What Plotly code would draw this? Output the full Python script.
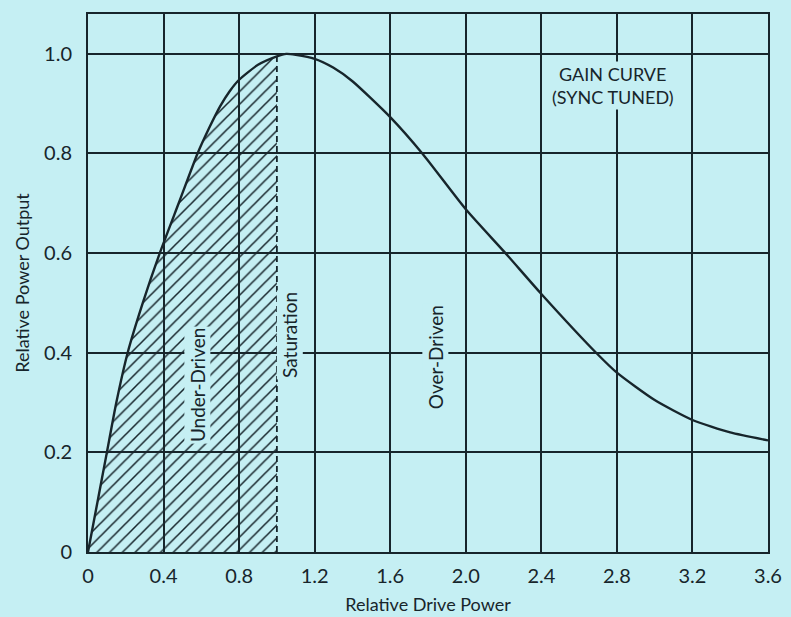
import plotly.graph_objects as go

# Gain curve
drive = [0, 0.05, 0.10, 0.15, 0.21, 0.29, 0.38, 0.48, 0.58, 0.64, 0.70, 0.75, 0.80, 0.90, 1.00,
         1.05, 1.10, 1.20, 1.30, 1.40, 1.60, 1.77, 2.00, 2.21, 2.40, 2.69, 2.80, 3.00, 3.20, 3.40, 3.60]
output = [0, 0.10, 0.20, 0.30, 0.40, 0.50, 0.60, 0.70, 0.80, 0.85, 0.895, 0.925, 0.948, 0.978, 0.995,
          1.00, 0.998, 0.99, 0.972, 0.945, 0.873, 0.80, 0.688, 0.60, 0.518, 0.40, 0.36, 0.305, 0.265, 0.24, 0.224]

saturation_x = 1.0
x_ticks = [0, 0.4, 0.8, 1.2, 1.6, 2.0, 2.4, 2.8, 3.2, 3.6]
x_tick_labels = ["0", "0.4", "0.8", "1.2", "1.6", "2.0", "2.4", "2.8", "3.2", "3.6"]
y_ticks = [0, 0.2, 0.4, 0.6, 0.8, 1.0]
y_tick_labels = ["0", "0.2", "0.4", "0.6", "0.8", "1.0"]

BG = "#c5eff3"
INK = "#17252b"
FONT = "Lato"

under_x = [x for x in drive if x <= saturation_x]
under_y = [y for x, y in zip(drive, output) if x <= saturation_x]

fig = go.Figure()

# hatched under-driven region
fig.add_trace(go.Scatter(
    x=under_x, y=under_y, mode="lines", fill="tozeroy",
    line=dict(width=0, color=INK, shape="spline", smoothing=0.6),
    fillcolor="rgba(0,0,0,0)",
    fillpattern=dict(shape="/", fgcolor=INK, bgcolor="rgba(0,0,0,0)", size=9, solidity=0.17,
                     fgopacity=1),
    hoverinfo="skip", showlegend=False))

# saturation dashed line
fig.add_trace(go.Scatter(
    x=[saturation_x, saturation_x], y=[0, 1.0], mode="lines",
    line=dict(color=INK, width=1.8, dash="6px,4px"), showlegend=False))

# gain curve
fig.add_trace(go.Scatter(
    x=drive, y=output, mode="lines", line=dict(color=INK, width=2.4, shape="spline", smoothing=0.6),
    showlegend=False))

ann_font = dict(family=FONT, size=19, color=INK)
fig.add_annotation(x=0.577, y=0.335, text="Under-Driven", textangle=-90, showarrow=False,
                   font=ann_font, bgcolor=BG)
fig.add_annotation(x=1.07, y=0.436, text="Saturation", textangle=-90, showarrow=False,
                   font=ann_font, bgcolor=BG)
fig.add_annotation(x=1.84, y=0.39, text="Over-Driven", textangle=-90, showarrow=False,
                   font=ann_font, bgcolor=BG)
fig.add_annotation(x=2.78, y=0.937, text="GAIN CURVE<br>(SYNC TUNED)", showarrow=False,
                   font=dict(family=FONT, size=18, color=INK), bgcolor=BG, align="center")

fig.update_layout(
    width=791, height=617,
    margin=dict(l=88, r=23, t=14, b=65, autoexpand=False),
    paper_bgcolor=BG, plot_bgcolor=BG,
    font=dict(family=FONT, size=20, color=INK),
    xaxis=dict(range=[0, 3.6], tickvals=x_ticks, ticktext=x_tick_labels, automargin=False,
               showgrid=True, gridcolor=INK, gridwidth=1.6, zeroline=False,
               showline=True, linecolor=INK, linewidth=2, mirror=True,
               ticks="outside", ticklen=5, tickcolor=BG,
               title=dict(text="Relative Drive Power", font=dict(size=18), standoff=12)),
    yaxis=dict(range=[0, 1.08], tickvals=y_ticks, ticktext=y_tick_labels, automargin=False,
               showgrid=True, gridcolor=INK, gridwidth=1.6, zeroline=False,
               showline=True, linecolor=INK, linewidth=2, mirror=True,
               ticks="outside", ticklen=10, tickcolor=BG,
               title=dict(text="Relative Power Output", font=dict(size=18), standoff=10)),
)

fig.write_html("out.html", config={"displayModeBar": False},
               post_script="document.body.style.margin='0px';document.body.style.background='%s';" % BG)
